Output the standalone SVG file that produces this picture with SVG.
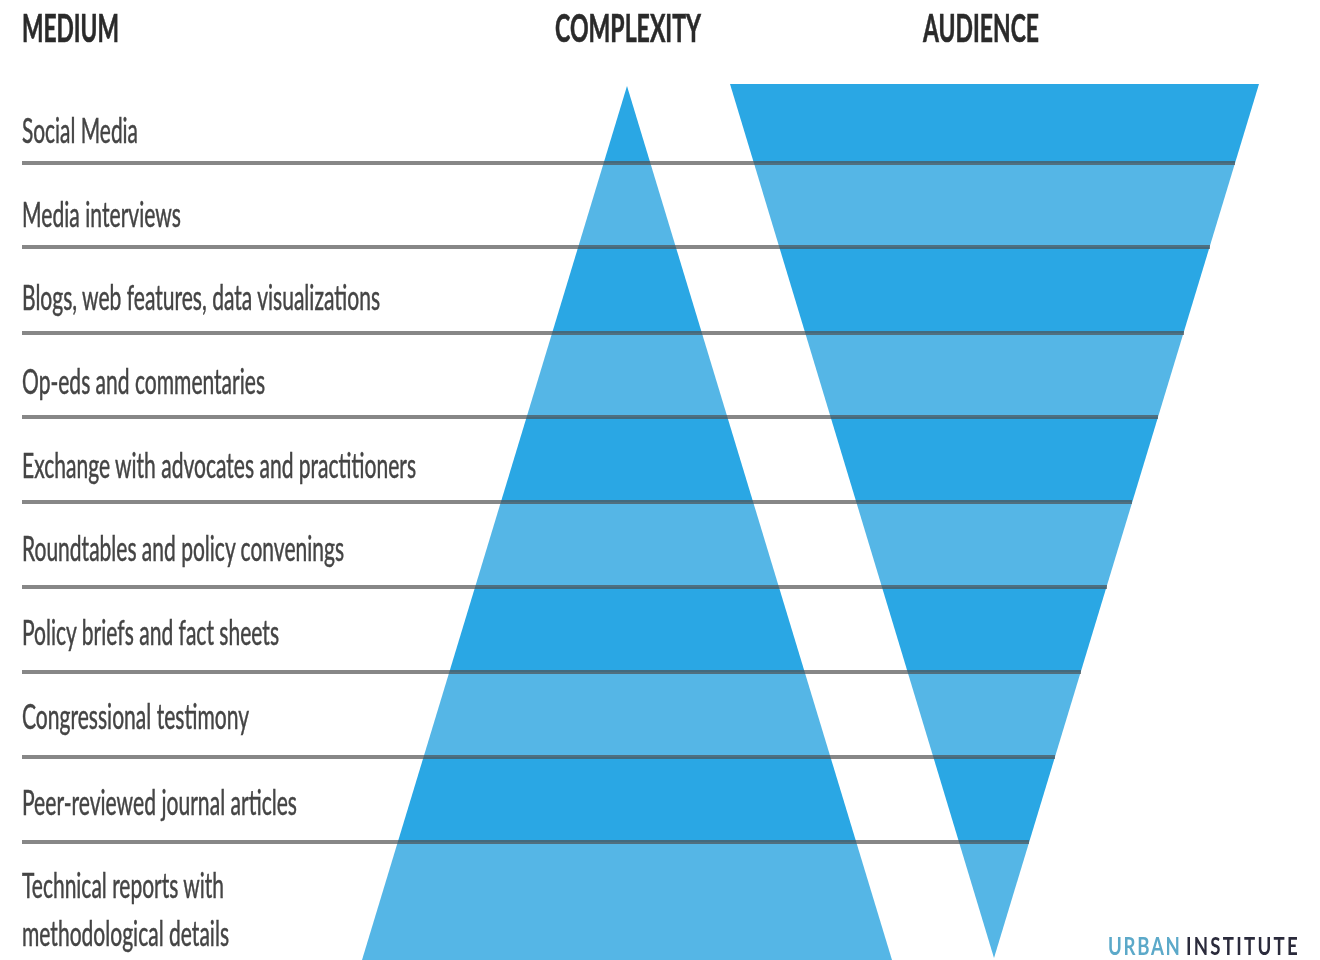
<svg xmlns="http://www.w3.org/2000/svg" width="1320" height="960" viewBox="0 0 1320 960">
<style>
.t{font-family:"Lato","Liberation Sans",sans-serif;font-size:34px;fill:#444444;stroke:#444444;stroke-width:.5px;filter:url(#soft)}
.h{font-family:"Lato","Liberation Sans",sans-serif;font-size:38px;font-weight:700;fill:#2b2b2b;stroke:#2b2b2b;stroke-width:.6px;filter:url(#soft)}
.d{fill:#2aa7e4}.l{fill:#55b6e6}
.r{stroke:#4d4d4d;stroke-opacity:.68;stroke-width:4;fill:none}
.u{font-family:"Lato","Liberation Sans",sans-serif;font-size:30px;font-weight:700;filter:url(#soft)}
</style>
<defs>
<filter id="soft" x="-5%" y="-20%" width="110%" height="140%"><feGaussianBlur stdDeviation="0.7"/></filter>
<clipPath id="tri-up"><polygon points="627,86 892,960 362,960"/></clipPath>
<clipPath id="tri-down"><polygon points="730,84 1259,84 994,958"/></clipPath>
<g id="bands">
<rect class="d" x="300" y="80" width="1000" height="83"/>
<rect class="l" x="300" y="163" width="1000" height="84"/>
<rect class="d" x="300" y="247" width="1000" height="86"/>
<rect class="l" x="300" y="333" width="1000" height="84"/>
<rect class="d" x="300" y="417" width="1000" height="85"/>
<rect class="l" x="300" y="502" width="1000" height="85"/>
<rect class="d" x="300" y="587" width="1000" height="85"/>
<rect class="l" x="300" y="672" width="1000" height="85"/>
<rect class="d" x="300" y="757" width="1000" height="85"/>
<rect class="l" x="300" y="842" width="1000" height="118"/>
</g>
</defs>
<rect width="1320" height="960" fill="#ffffff"/>
<g id="complexity-triangle" clip-path="url(#tri-up)"><use href="#bands"/></g>
<g id="audience-triangle" clip-path="url(#tri-down)"><use href="#bands"/></g>
<g id="rules" filter="url(#soft)">
<line class="r" x1="22" y1="163" x2="1235" y2="163"/>
<line class="r" x1="22" y1="247" x2="1210" y2="247"/>
<line class="r" x1="22" y1="333" x2="1184" y2="333"/>
<line class="r" x1="22" y1="417" x2="1158" y2="417"/>
<line class="r" x1="22" y1="502" x2="1132" y2="502"/>
<line class="r" x1="22" y1="587" x2="1107" y2="587"/>
<line class="r" x1="22" y1="672" x2="1081" y2="672"/>
<line class="r" x1="22" y1="757" x2="1055" y2="757"/>
<line class="r" x1="22" y1="842" x2="1029" y2="842"/>
</g>
<g id="headers">
<text class="h" x="22" y="42" textLength="97" lengthAdjust="spacingAndGlyphs">MEDIUM</text>
<text class="h" x="555" y="42" textLength="146" lengthAdjust="spacingAndGlyphs">COMPLEXITY</text>
<text class="h" x="923" y="42" textLength="116" lengthAdjust="spacingAndGlyphs">AUDIENCE</text>
</g>
<g id="media-labels">
<text class="t" x="22" y="143" textLength="116" lengthAdjust="spacingAndGlyphs">Social Media</text>
<text class="t" x="22" y="227" textLength="159" lengthAdjust="spacingAndGlyphs">Media interviews</text>
<text class="t" x="22" y="310" textLength="358" lengthAdjust="spacingAndGlyphs">Blogs, web features, data visualizations</text>
<text class="t" x="22" y="394" textLength="243" lengthAdjust="spacingAndGlyphs">Op-eds and commentaries</text>
<text class="t" x="22" y="478" textLength="394" lengthAdjust="spacingAndGlyphs">Exchange with advocates and practitioners</text>
<text class="t" x="22" y="561" textLength="322" lengthAdjust="spacingAndGlyphs">Roundtables and policy convenings</text>
<text class="t" x="22" y="645" textLength="257" lengthAdjust="spacingAndGlyphs">Policy briefs and fact sheets</text>
<text class="t" x="22" y="729" textLength="227" lengthAdjust="spacingAndGlyphs">Congressional testimony</text>
<text class="t" x="22" y="815" textLength="275" lengthAdjust="spacingAndGlyphs">Peer-reviewed journal articles</text>
<text class="t" x="22" y="898" textLength="202" lengthAdjust="spacingAndGlyphs">Technical reports with</text>
<text class="t" x="22" y="946" textLength="207" lengthAdjust="spacingAndGlyphs">methodological details</text>
</g>
<g id="logo">
<text class="u" transform="translate(1108,955) scale(.62,.8)" fill="#5ba9c9" textLength="116" lengthAdjust="spacing">URBAN</text>
<text class="u" transform="translate(1186,955) scale(.62,.8)" fill="#2a2a3a" textLength="180" lengthAdjust="spacing">INSTITUTE</text>
</g>
</svg>
